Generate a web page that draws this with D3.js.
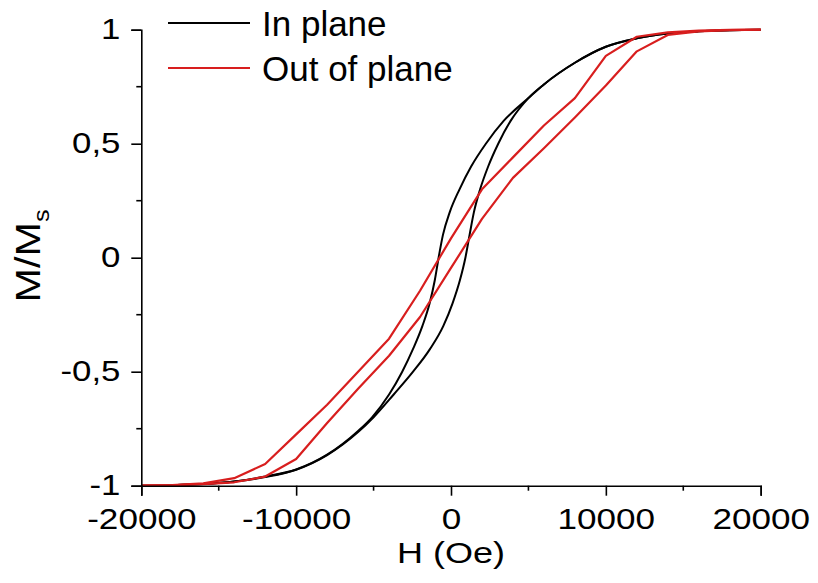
<!DOCTYPE html>
<html>
<head>
<meta charset="utf-8">
<script src="https://cdn.jsdelivr.net/npm/d3@7"></script>
<style>
  html, body { margin: 0; padding: 0; background: #fff; }
  svg { display: block; font-family: "Liberation Sans", Arial, sans-serif; }
</style>
</head>
<body>
<div id="container"></div>
<script>
// Data (H in Oe, M/Ms)
const inDownH = [20000, 18000, 16000, 14000, 12000, 10000, 8000, 6000, 5000, 3400, 2250, 1300, 550, -80, -520, -800, -1050, -1380, -1850, -2450, -3150, -4000, -5100, -6000, -8000, -10000, -12000, -14000, -16000, -18000, -20000];
const inDownM = [1.0, 0.998, 0.993, 0.983, 0.962, 0.925, 0.855, 0.76, 0.70, 0.60, 0.50, 0.40, 0.30, 0.20, 0.10, 0.0, -0.10, -0.20, -0.30, -0.40, -0.50, -0.60, -0.70, -0.76, -0.864, -0.929, -0.96, -0.982, -0.993, -0.998, -1.0];

const inUpH = [-20000, -18000, -16000, -14000, -12000, -10000, -8000, -6000, -5000, -3700, -2450, -1350, -500, 100, 570, 930, 1200, 1480, 1880, 2400, 3050, 3850, 5000, 6000, 8000, 10000, 12000, 14000, 16000, 18000, 20000];
const inUpM = [-1.0, -0.998, -0.993, -0.982, -0.962, -0.93, -0.866, -0.765, -0.70, -0.60, -0.50, -0.40, -0.30, -0.20, -0.10, 0.0, 0.10, 0.20, 0.30, 0.40, 0.50, 0.60, 0.70, 0.76, 0.855, 0.925, 0.962, 0.983, 0.993, 0.998, 1.0];

const outDownH = [20000, 18000, 16000, 14000, 12000, 10000, 8000, 6000, 4000, 2000, 0, -2000, -4000, -6000, -8000, -10000, -12000, -14000, -16000, -18000, -20000];
const outDownM = [1.0, 0.999, 0.996, 0.988, 0.969, 0.885, 0.70, 0.58, 0.44, 0.30, 0.085, -0.145, -0.355, -0.50, -0.645, -0.775, -0.905, -0.967, -0.99, -0.997, -1.0];

const outUpH = [-20000, -18000, -16000, -14000, -12000, -10000, -8000, -6000, -4000, -2000, 0, 2000, 4000, 6000, 8000, 10000, 12000, 14000, 16000, 18000, 20000];
const outUpM = [-1.0, -0.998, -0.993, -0.985, -0.96, -0.883, -0.725, -0.575, -0.43, -0.26, -0.045, 0.17, 0.35, 0.48, 0.615, 0.755, 0.905, 0.977, 0.993, 0.998, 1.0];

const xTicks = [-20000, -10000, 0, 10000, 20000];
const xMinor = [-15000, -5000, 5000, 15000];
const yTicks = [-1, -0.5, 0, 0.5, 1];
const yMinor = [-0.75, -0.25, 0.25, 0.75];
const yTickLabels = ["-1", "-0,5", "0", "0,5", "1"];

const legendNames = ["In plane", "Out of plane"];
const colors = ["#000000", "#d81e1e"];

// Layout
const width = 818, height = 583;
const margin = { top: 29.7, right: 57.3, bottom: 97.3, left: 141.3 };
const innerW = width - margin.left - margin.right;
const innerH = height - margin.top - margin.bottom;

const svg = d3.select("#container")
  .append("svg")
  .attr("width", width)
  .attr("height", height);

const g = svg.append("g")
  .attr("transform", "translate(" + margin.left + "," + margin.top + ")");

const xScale = d3.scaleLinear().domain([-20000, 20000]).range([0, innerW]);
const yScale = d3.scaleLinear().domain([-1, 1]).range([innerH, 0]);

function zip(hs, ms) {
  return hs.map((h, i) => ({ h: h, m: ms[i] })).sort((a, b) => a.h - b.h);
}

const smooth = d3.line()
  .x(d => xScale(d.h))
  .y(d => yScale(d.m))
  .curve(d3.curveMonotoneX);

const straight = d3.line()
  .x(d => xScale(d.h))
  .y(d => yScale(d.m));

// In plane loop (black)
[zip(inDownH, inDownM), zip(inUpH, inUpM)].forEach(data => {
  g.append("path")
    .datum(data)
    .attr("fill", "none")
    .attr("stroke", colors[0])
    .attr("stroke-width", 2)
    .attr("d", smooth);
});

// Out of plane loop (red)
[zip(outDownH, outDownM), zip(outUpH, outUpM)].forEach(data => {
  g.append("path")
    .datum(data)
    .attr("fill", "none")
    .attr("stroke", colors[1])
    .attr("stroke-width", 2.2)
    .attr("stroke-linejoin", "round")
    .attr("d", straight);
});

// Axes
const xAxis = d3.axisBottom(xScale).tickValues(xTicks).tickSize(10).tickPadding(12)
  .tickFormat(d => String(d));
const yAxis = d3.axisLeft(yScale).tickValues(yTicks).tickSize(10).tickPadding(8)
  .tickFormat((d, i) => yTickLabels[i]);

const gx = g.append("g")
  .attr("transform", "translate(0," + innerH + ")")
  .call(xAxis);
gx.append("g").selectAll("line").data(xMinor).enter().append("line")
  .attr("x1", d => xScale(d)).attr("x2", d => xScale(d))
  .attr("y1", 0).attr("y2", 5)
  .attr("stroke", "#000");

const gy = g.append("g").call(yAxis);
gy.append("g").selectAll("line").data(yMinor).enter().append("line")
  .attr("y1", d => yScale(d)).attr("y2", d => yScale(d))
  .attr("x1", 0).attr("x2", -5)
  .attr("stroke", "#000");

[gx, gy].forEach(ax => {
  ax.select(".domain").attr("stroke", "#000").attr("stroke-width", 1.6);
  ax.selectAll("line").attr("stroke", "#000").attr("stroke-width", 1.6);
  ax.selectAll(".tick text")
    .attr("fill", "#000")
    .style("font-size", "30px")
    .style("font-family", "'Liberation Sans', Arial, sans-serif");
});
gx.selectAll(".tick text").attr("transform", "scale(1.17,1)");
gy.selectAll(".tick text").attr("dy", "0.3em").attr("transform", "scale(1.16,1)");

// Axis titles
svg.append("text")
  .attr("transform", "translate(" + (margin.left + innerW / 2) + ",563) scale(1.2,1)")
  .attr("text-anchor", "middle")
  .style("font-size", "30px")
  .text("H (Oe)");

const yTitle = svg.append("text")
  .attr("transform", "translate(40,256) rotate(-90) scale(1.15,1)")
  .attr("text-anchor", "middle")
  .style("font-size", "36px");
yTitle.append("tspan").text("M/M");
yTitle.append("tspan").attr("dy", 9).style("font-size", "22px").text("s");

// Legend
const legend = svg.append("g");
legendNames.forEach((name, i) => {
  const y = 23 + i * 45;
  legend.append("line")
    .attr("x1", 168).attr("x2", 250)
    .attr("y1", y).attr("y2", y)
    .attr("stroke", colors[i])
    .attr("stroke-width", 2);
  legend.append("text")
    .attr("x", 262).attr("y", y + 13)
    .style("font-size", "35px")
    .text(name);
});
</script>
</body>
</html>
